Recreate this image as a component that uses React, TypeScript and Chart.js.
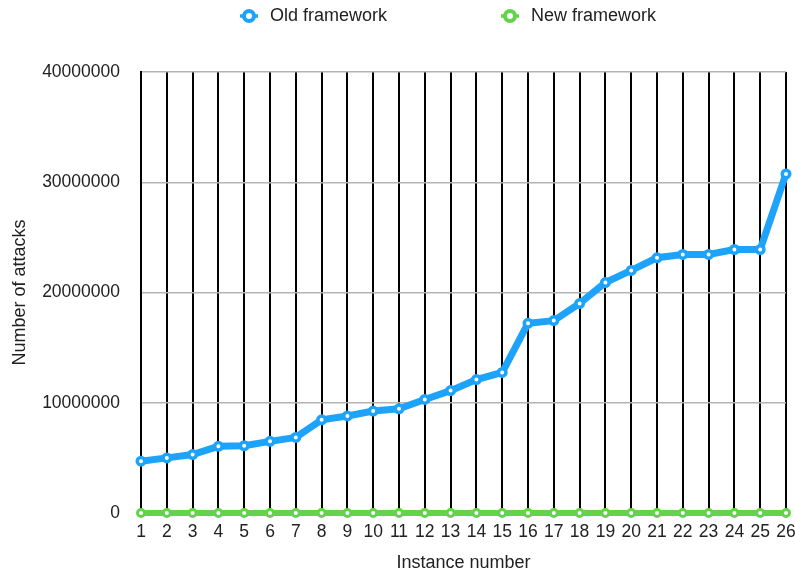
import React, { useEffect, useRef } from "react";
import { Chart, registerables } from "chart.js";

Chart.register(...registerables);

const instances = [
  "1", "2", "3", "4", "5", "6", "7", "8", "9", "10", "11", "12", "13",
  "14", "15", "16", "17", "18", "19", "20", "21", "22", "23", "24", "25", "26",
];

const oldFramework = [
  4700000, 5000000, 5300000, 6050000, 6100000, 6500000, 6850000, 8450000,
  8800000, 9250000, 9450000, 10300000, 11100000, 12100000, 12750000,
  17200000, 17450000, 19000000, 20900000, 22000000, 23150000, 23450000,
  23450000, 23900000, 23900000, 30750000,
];

const newFramework = [
  0, 0, 0, 0, 0, 0, 0, 0, 0, 0, 0, 0, 0, 0, 0, 0, 0, 0, 0, 0, 0, 0, 0, 0, 0, 0,
];

const seriesNames = ["Old framework", "New framework"];
const yTicks = [0, 10000000, 20000000, 30000000, 40000000];

const BLUE = "#1ea3fb";
const GREEN = "#63d449";
const FONT = "'Liberation Sans', Arial, Helvetica, sans-serif";

const legendPlugin = {
  id: "customLegend",
  afterDraw(chart: any) {
    const ctx = chart.ctx;
    const items = [
      { text: seriesNames[0], color: BLUE, x: 249 },
      { text: seriesNames[1], color: GREEN, x: 510 },
    ];
    ctx.save();
    ctx.font = `18px ${FONT}`;
    ctx.textBaseline = "middle";
    ctx.textAlign = "left";
    items.forEach((it) => {
      ctx.beginPath();
      ctx.moveTo(it.x - 9, 16);
      ctx.lineTo(it.x + 9, 16);
      ctx.lineWidth = 3.5;
      ctx.strokeStyle = it.color;
      ctx.stroke();
      ctx.beginPath();
      ctx.arc(it.x, 16, 5, 0, Math.PI * 2);
      ctx.fillStyle = "#ffffff";
      ctx.fill();
      ctx.lineWidth = 4;
      ctx.strokeStyle = it.color;
      ctx.stroke();
      ctx.fillStyle = "#222222";
      ctx.fillText(it.text, it.x + 21, 16);
    });
    ctx.restore();
  },
};

export default function App() {
  const ref = useRef<HTMLCanvasElement | null>(null);

  useEffect(() => {
    if (!ref.current) return;
    const chart = new Chart(ref.current, {
      type: "line",
      data: {
        labels: instances,
        datasets: [
          {
            label: seriesNames[1],
            data: newFramework,
            borderColor: GREEN,
            backgroundColor: GREEN,
            borderWidth: 6,
            pointRadius: 3.5,
            pointBorderWidth: 3,
            pointBackgroundColor: "#ffffff",
            pointBorderColor: GREEN,
            tension: 0,
            clip: false,
            order: 2,
          },
          {
            label: seriesNames[0],
            data: oldFramework,
            borderColor: BLUE,
            backgroundColor: BLUE,
            borderWidth: 7,
            pointRadius: 3.75,
            pointBorderWidth: 3.5,
            pointBackgroundColor: "#ffffff",
            pointBorderColor: BLUE,
            tension: 0,
            clip: false,
            order: 1,
          },
        ],
      },
      options: {
        animation: false,
        responsive: true,
        maintainAspectRatio: false,
        layout: { padding: { top: 72, right: 0, bottom: 0, left: 0 } },
        plugins: {
          legend: { display: false },
          tooltip: { enabled: false },
        },
        scales: {
          x: {
            type: "category",
            offset: false,
            afterFit: (scale: any) => {
              scale.height = 62;
              scale.paddingRight = 9;
              scale.paddingLeft = 0;
            },
            grid: {
              display: true,
              color: "#000000",
              lineWidth: 2,
              drawTicks: false,
            },
            border: { display: false },
            ticks: {
              color: "#222222",
              padding: 9,
              maxRotation: 0,
              autoSkip: false,
              font: { family: FONT, size: 17.5 },
            },
            title: {
              display: true,
              text: "Instance number",
              color: "#222222",
              font: { family: FONT, size: 18 },
              padding: { top: 8, bottom: 1 },
            },
          },
          y: {
            min: 0,
            max: 40000000,
            z: -1,
            afterFit: (scale: any) => {
              scale.width = 141;
            },
            afterBuildTicks: (scale: any) => {
              scale.ticks = yTicks.map((v) => ({ value: v }));
            },
            grid: {
              color: "#b4b4b4",
              lineWidth: 1.5,
              drawTicks: false,
            },
            border: { display: true, color: "#000000", width: 2 },
            ticks: {
              color: "#222222",
              padding: 21,
              font: { family: FONT, size: 17.5 },
              callback: (v: any) => String(v),
            },
            title: {
              display: true,
              text: "Number of attacks",
              color: "#222222",
              font: { family: FONT, size: 18 },
              padding: { top: 9, bottom: 4 },
            },
          },
        },
      },
      plugins: [legendPlugin],
    });
    return () => chart.destroy();
  }, []);

  return (
    <div
      style={{
        position: "fixed",
        left: 0,
        top: 0,
        width: 795,
        height: 575,
        background: "#ffffff",
      }}
    >
      <canvas ref={ref} />
    </div>
  );
}
